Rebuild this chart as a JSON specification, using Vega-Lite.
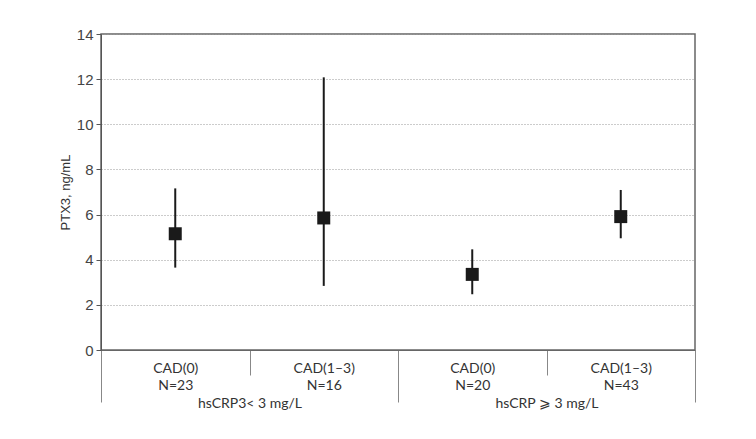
{
  "$schema": "https://vega.github.io/schema/vega-lite/v6.json",
  "width": 594,
  "height": 316,
  "autosize": "none",
  "padding": {"left": 101, "top": 34, "right": 61, "bottom": 89},
  "background": "white",
  "config": {
    "view": {"stroke": "#666", "strokeWidth": 1.5},
    "axisY": {
      "grid": true, "gridDash": [1, 2], "gridColor": "#999", "tickSize": 5, "tickColor": "#555",
      "domainColor": "#555", "labelFont": "Liberation Sans", "labelFontSize": 15,
      "labelColor": "#444", "labelPadding": 3, "titleFont": "Liberation Sans",
      "titleFontSize": 13, "titleFontWeight": "normal", "titleColor": "#333", "titlePadding": 4
    },
    "axisX": {
      "labelFont": "Lato", "labelFontSize": 14, "labelColor": "#333", "labelAngle": 0,
      "labelBaseline": "top", "tickColor": "#888", "tickWidth": 1, "title": null
    }
  },
  "data": {
    "values": [
      {"cat": "CAD(0)|N=23", "crp": "hsCRP3< 3 mg/L", "mean": 5.15, "lo": 3.65, "hi": 7.16},
      {"cat": "CAD(1–3)|N=16", "crp": "hsCRP3< 3 mg/L", "mean": 5.85, "lo": 2.84, "hi": 12.08},
      {"cat": "CAD(0)|N=20", "crp": "hsCRP ⩾ 3 mg/L", "mean": 3.35, "lo": 2.47, "hi": 4.46},
      {"cat": "CAD(1–3)|N=43", "crp": "hsCRP ⩾ 3 mg/L", "mean": 5.91, "lo": 4.95, "hi": 7.09}
    ]
  },
  "layer": [
    {
      "mark": {"type": "point", "opacity": 0},
      "encoding": {
        "x": {
          "field": "crp", "type": "nominal", "sort": null,
          "scale": {"type": "band", "paddingInner": 0, "paddingOuter": 0},
          "axis": {
            "orient": "bottom", "title": null, "tickBand": "extent", "tickSize": 52,
            "domain": false, "labelPadding": -6,
            "labelExpr": "isString(datum.value) ? datum.value : ''"
          }
        },
        "y": {
          "field": "mean", "type": "quantitative", "scale": {"domain": [0, 14]},
          "axis": {"title": "PTX3, ng/mL", "values": [0, 2, 4, 6, 8, 10, 12, 14]}
        }
      }
    },
    {
      "encoding": {
        "x": {
          "field": "cat", "type": "nominal", "sort": null,
          "scale": {"type": "band", "paddingInner": 0, "paddingOuter": 0},
          "axis": {
            "orient": "bottom", "title": null, "tickBand": "extent", "tickSize": 25,
            "domainColor": "#666",
            "labelExpr": "isString(datum.value) ? split(datum.value, '|') : ''", "labelPadding": -14,
            "labelLineHeight": 17
          }
        }
      },
      "layer": [
        {
          "mark": {"type": "rule", "strokeWidth": 2, "color": "#1a1a1a"},
          "encoding": {
            "y": {
              "field": "lo", "type": "quantitative", "scale": {"domain": [0, 14]},
              "axis": {"title": "PTX3, ng/mL", "values": [0, 2, 4, 6, 8, 10, 12, 14]}
            },
            "y2": {"field": "hi"}
          }
        },
        {
          "mark": {"type": "square", "size": 169, "filled": true, "opacity": 1, "color": "#1a1a1a"},
          "encoding": {
            "y": {
              "field": "mean", "type": "quantitative", "scale": {"domain": [0, 14]},
              "axis": {"title": "PTX3, ng/mL", "values": [0, 2, 4, 6, 8, 10, 12, 14]}
            }
          }
        }
      ]
    }
  ],
  "resolve": {"scale": {"x": "independent"}, "axis": {"x": "independent"}}
}
